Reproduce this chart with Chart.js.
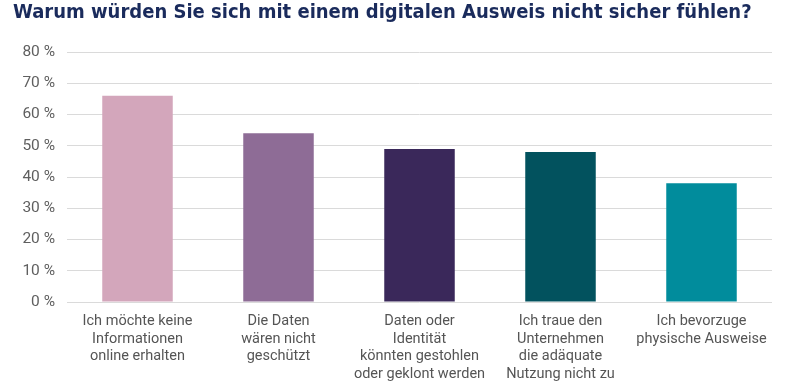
<!DOCTYPE html>
<html>
<head>
<meta charset="utf-8">
<script src="https://cdn.jsdelivr.net/npm/chart.js@4"></script>
<style>
  html, body { margin: 0; padding: 0; background: #fff; }
  #wrap { width: 800px; height: 390px; }
</style>
</head>
<body>
<div id="wrap"><canvas id="canvas"></canvas></div>
<script>
const categories = [
  ['Ich möchte keine', 'Informationen', 'online erhalten'],
  ['Die Daten', 'wären nicht', 'geschützt'],
  ['Daten oder', 'Identität', 'könnten gestohlen', 'oder geklont werden'],
  ['Ich traue den', 'Unternehmen', 'die adäquate', 'Nutzung nicht zu'],
  ['Ich bevorzuge', 'physische Ausweise']
];
const shares = [66, 54, 49, 48, 38];
const barColors = ['#d3a6bb', '#8e6c96', '#3a285a', '#02525e', '#018c9c'];
const yTicks = [0, 10, 20, 30, 40, 50, 60, 70, 80];

const narrow = "'Liberation Sans Narrow', 'DejaVu Sans Condensed', sans-serif";

new Chart(document.getElementById('canvas').getContext('2d'), {
  type: 'bar',
  data: {
    labels: categories,
    datasets: [{
      data: shares,
      backgroundColor: barColors,
      borderWidth: 0,
      categoryPercentage: 1,
      barPercentage: 0.5
    }]
  },
  options: {
    responsive: true,
    maintainAspectRatio: false,
    animation: false,
    layout: { padding: { left: 13, right: 28, top: 0, bottom: 0 } },
    plugins: {
      legend: { display: false },
      tooltip: { enabled: false },
      title: {
        display: true,
        text: 'Warum würden Sie sich mit einem digitalen Ausweis nicht sicher fühlen?',
        align: 'start',
        color: '#1a2b5c',
        font: { family: narrow, size: 20, weight: 'bold', lineHeight: 1.2 },
        padding: { top: 1, bottom: 27 }
      }
    },
    scales: {
      y: {
        min: 0,
        max: 80,
        afterBuildTicks: axis => { axis.ticks = yTicks.map(v => ({ value: v })); },
        afterFit: axis => { axis.width = 54; },
        border: { display: false },
        grid: { color: '#dadada', lineWidth: 1, drawTicks: false },
        ticks: {
          padding: 12,
          color: '#5f5f5f',
          font: { family: 'Roboto, sans-serif', size: 15.5 },
          callback: v => v + ' %'
        }
      },
      x: {
        afterFit: axis => { axis.height = 88; },
        border: { display: false },
        grid: { display: false },
        ticks: {
          padding: 3,
          maxRotation: 0,
          autoSkip: false,
          color: '#555555',
          font: { family: 'Roboto, sans-serif', size: 14.5, lineHeight: 1.2 }
        }
      }
    }
  }
});
</script>
</body>
</html>
